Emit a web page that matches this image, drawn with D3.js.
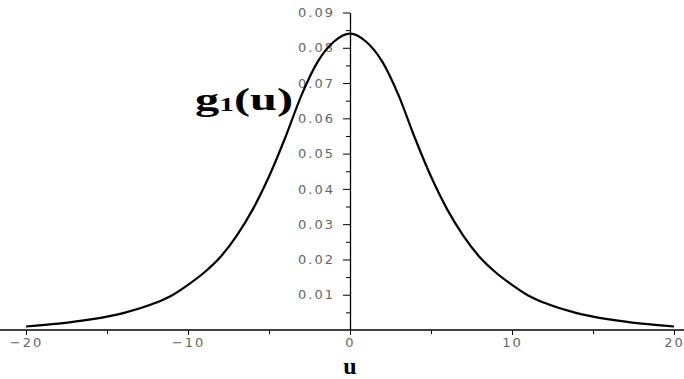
<!DOCTYPE html>
<html lang="en">
    <head>
        <meta charset="utf-8">
        <title>g1(u)</title>
        <script type="text/javascript" src="https://cdn.jsdelivr.net/npm/d3@7"></script>
		<style type="text/css">
		body { margin: 0; background: #fff; }
		.tick text { font-family: "DejaVu Sans", sans-serif; font-size: 13px; fill: #666; letter-spacing: 2px; }
		.tick line, .domain { stroke: #000; }
		.lbl { font-family: "Liberation Serif", serif; font-weight: bold; fill: #000; }
		</style>
    </head>
    <body>
        <script type="text/javascript">
		// values
		var uVals = [-20, -18, -16, -14, -12, -11, -10, -9, -8, -7, -6, -5, -4, -3, -2, -1, 0,
		             1, 2, 3, 4, 5, 6, 7, 8, 9, 10, 11, 12, 14, 16, 18, 20];
		var gVals = [0.0010, 0.0018, 0.0030, 0.0048, 0.0077, 0.0098, 0.0128, 0.0163, 0.0207, 0.0267, 0.0342, 0.0435, 0.0545, 0.0665, 0.0760, 0.0817, 0.0840,
		             0.0817, 0.0760, 0.0665, 0.0545, 0.0435, 0.0342, 0.0267, 0.0207, 0.0163, 0.0128, 0.0098, 0.0077, 0.0048, 0.0030, 0.0018, 0.0010];
		var xMajor = [-20, -10, 0, 10, 20];
		var xMinor = [-15, -5, 5, 15];
		var yMajor = [0.01, 0.02, 0.03, 0.04, 0.05, 0.06, 0.07, 0.08, 0.09];
		var yMinor = [0.005, 0.015, 0.025, 0.035, 0.045, 0.055, 0.065, 0.075, 0.085];

		var w = 684, h = 379;
		var svg = d3.select("body").append("svg").attr("width", w).attr("height", h);

		var x = d3.scaleLinear().domain([-20, 20]).range([26, 674]);
		var y = d3.scaleLinear().domain([0, 0.09]).range([330, 12.5]);

		// x axis, full width line
		svg.append("line")
			.attr("x1", 0).attr("x2", w)
			.attr("y1", y(0)).attr("y2", y(0))
			.attr("stroke", "#000").attr("stroke-width", 1.3);

		var xAxis = svg.append("g").attr("transform", "translate(0," + y(0) + ")")
			.call(d3.axisBottom(x).tickValues(xMajor).tickSize(5).tickPadding(2)
				.tickFormat(function(d) { return d < 0 ? "\u2212" + Math.abs(d) : d; }));
		xAxis.select(".domain").remove();
		xAxis.selectAll(".tick text").attr("dy", "0.8em");

		var xAxisMinor = svg.append("g").attr("transform", "translate(0," + y(0) + ")")
			.call(d3.axisBottom(x).tickValues(xMinor).tickSize(4).tickFormat(""));
		xAxisMinor.select(".domain").remove();

		// y axis
		var yAxis = svg.append("g").attr("transform", "translate(" + x(0) + ",0)")
			.call(d3.axisLeft(y).tickValues(yMajor).tickSize(7).tickPadding(8).tickSizeOuter(0)
				.tickFormat(d3.format(".2f")));
		yAxis.select(".domain").attr("stroke-width", 1.3);

		var yAxisMinor = svg.append("g").attr("transform", "translate(" + x(0) + ",0)")
			.call(d3.axisLeft(y).tickValues(yMinor).tickSize(4).tickFormat(""));
		yAxisMinor.select(".domain").remove();

		// the curve
		var line = d3.line()
			.x(function(d, i) { return x(uVals[i]); })
			.y(function(d) { return y(d); })
			.curve(d3.curveMonotoneX);

		svg.append("path")
			.datum(gVals)
			.attr("d", line)
			.attr("fill", "none")
			.attr("stroke", "#000")
			.attr("stroke-width", 2.2);

		// labels
		var gl = svg.append("text").attr("class", "lbl")
			.attr("x", 195).attr("y", 110).attr("font-size", 31)
			.attr("textLength", 98).attr("lengthAdjust", "spacingAndGlyphs");
		gl.append("tspan").text("g");
		gl.append("tspan").attr("font-size", 19).attr("dy", 1).text("1");
		gl.append("tspan").attr("dy", -1).text("(u)");

		svg.append("text").attr("class", "lbl")
			.attr("x", x(0)).attr("y", 373.5)
			.attr("text-anchor", "middle")
			.attr("font-size", 24)
			.text("u");
        </script>
    </body>
</html>
